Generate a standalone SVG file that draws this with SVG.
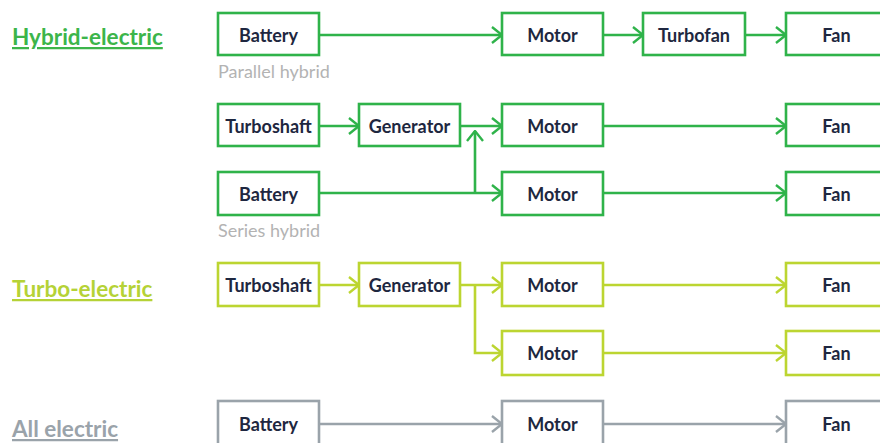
<svg xmlns="http://www.w3.org/2000/svg" width="880" height="443" viewBox="0 0 880 443">
<defs>
<style>
.b{fill:#fff;stroke-width:2.6}
.g{stroke:#2fb34a}
.y{stroke:#bcd531}
.s{stroke:#9aa3aa}
.t{font-family:Lato,"Liberation Sans",sans-serif;font-weight:bold;font-size:18px;fill:#1e2740;text-anchor:middle}
.h{font-family:Lato,"Liberation Sans",sans-serif;font-weight:bold;font-size:22.5px;text-decoration:underline}
.n{font-family:Lato,"Liberation Sans",sans-serif;font-size:18px;fill:#b3b3b3}
.c{fill:none;stroke-width:2.6}
</style>
<marker id="ag" viewBox="0 0 12 18" refX="11" refY="9" markerWidth="12" markerHeight="18" markerUnits="userSpaceOnUse" orient="auto"><path d="M1,1 L11,9 L1,17" fill="none" stroke="#2fb34a" stroke-width="2.4"/></marker>
<marker id="ay" viewBox="0 0 12 18" refX="11" refY="9" markerWidth="12" markerHeight="18" markerUnits="userSpaceOnUse" orient="auto"><path d="M1,1 L11,9 L1,17" fill="none" stroke="#bcd531" stroke-width="2.4"/></marker>
<marker id="as" viewBox="0 0 12 18" refX="11" refY="9" markerWidth="12" markerHeight="18" markerUnits="userSpaceOnUse" orient="auto"><path d="M1,1 L11,9 L1,17" fill="none" stroke="#9aa3aa" stroke-width="2.4"/></marker>
</defs>
<rect width="880" height="443" fill="#fff"/>
<g id="labels">
<text class="h" x="12" y="45" fill="#3cb54a">Hybrid-electric</text>
<text class="h" x="12" y="297" fill="#b5d236">Turbo-electric</text>
<text class="h" x="12" y="437" fill="#9aa3aa">All electric</text>
<text class="n" x="218" y="78">Parallel hybrid</text>
<text class="n" x="218" y="237">Series hybrid</text>
</g>
<g id="connectors">
<path class="c g" d="M319,35 H502" marker-end="url(#ag)"/>
<path class="c g" d="M603,35 H643" marker-end="url(#ag)"/>
<path class="c g" d="M745,35 H786" marker-end="url(#ag)"/>
<path class="c g" d="M319,126 H359" marker-end="url(#ag)"/>
<path class="c g" d="M460,126 H502" marker-end="url(#ag)"/>
<path class="c g" d="M319,193 H502" marker-end="url(#ag)"/>
<path class="c g" d="M475,193 V131" marker-end="url(#ag)"/>
<path class="c g" d="M603,126 H786" marker-end="url(#ag)"/>
<path class="c g" d="M603,193 H786" marker-end="url(#ag)"/>
<path class="c y" d="M319,285 H359" marker-end="url(#ay)"/>
<path class="c y" d="M460,285 H502" marker-end="url(#ay)"/>
<path class="c y" d="M475,285 V353 H502" marker-end="url(#ay)"/>
<path class="c y" d="M603,285 H786" marker-end="url(#ay)"/>
<path class="c y" d="M603,353 H786" marker-end="url(#ay)"/>
<path class="c s" d="M319,424 H502" marker-end="url(#as)"/>
<path class="c s" d="M603,424 H786" marker-end="url(#as)"/>
</g>
<g id="n-battery1"><rect class="b g" x="218" y="13" width="101" height="42"/><text class="t" x="268.5" y="42">Battery</text></g>
<g id="n-motor1"><rect class="b g" x="502" y="13" width="101" height="42"/><text class="t" x="552.5" y="42">Motor</text></g>
<g id="n-turbofan1"><rect class="b g" x="643" y="13" width="102" height="42"/><text class="t" x="694" y="42">Turbofan</text></g>
<g id="n-fan1"><rect class="b g" x="786" y="13" width="101" height="42"/><text class="t" x="836.5" y="42">Fan</text></g>
<g id="n-turboshaft2"><rect class="b g" x="218" y="104" width="101" height="42"/><text class="t" x="268.5" y="133">Turboshaft</text></g>
<g id="n-generator2"><rect class="b g" x="359" y="104" width="101" height="42"/><text class="t" x="409.5" y="133">Generator</text></g>
<g id="n-motor2"><rect class="b g" x="502" y="104" width="101" height="42"/><text class="t" x="552.5" y="133">Motor</text></g>
<g id="n-fan2"><rect class="b g" x="786" y="104" width="101" height="42"/><text class="t" x="836.5" y="133">Fan</text></g>
<g id="n-battery3"><rect class="b g" x="218" y="172" width="101" height="43"/><text class="t" x="268.5" y="201">Battery</text></g>
<g id="n-motor3"><rect class="b g" x="502" y="172" width="101" height="43"/><text class="t" x="552.5" y="201">Motor</text></g>
<g id="n-fan3"><rect class="b g" x="786" y="172" width="101" height="43"/><text class="t" x="836.5" y="201">Fan</text></g>
<g id="n-turboshaft4"><rect class="b y" x="218" y="263" width="101" height="43"/><text class="t" x="268.5" y="292">Turboshaft</text></g>
<g id="n-generator4"><rect class="b y" x="359" y="263" width="101" height="43"/><text class="t" x="409.5" y="292">Generator</text></g>
<g id="n-motor4"><rect class="b y" x="502" y="263" width="101" height="43"/><text class="t" x="552.5" y="292">Motor</text></g>
<g id="n-fan4"><rect class="b y" x="786" y="263" width="101" height="43"/><text class="t" x="836.5" y="292">Fan</text></g>
<g id="n-motor5"><rect class="b y" x="502" y="331" width="101" height="44"/><text class="t" x="552.5" y="360">Motor</text></g>
<g id="n-fan5"><rect class="b y" x="786" y="331" width="101" height="44"/><text class="t" x="836.5" y="360">Fan</text></g>
<g id="n-battery6"><rect class="b s" x="218" y="401" width="101" height="46"/><text class="t" x="268.5" y="431">Battery</text></g>
<g id="n-motor6"><rect class="b s" x="502" y="401" width="101" height="46"/><text class="t" x="552.5" y="431">Motor</text></g>
<g id="n-fan6"><rect class="b s" x="786" y="401" width="101" height="46"/><text class="t" x="836.5" y="431">Fan</text></g>
</svg>
